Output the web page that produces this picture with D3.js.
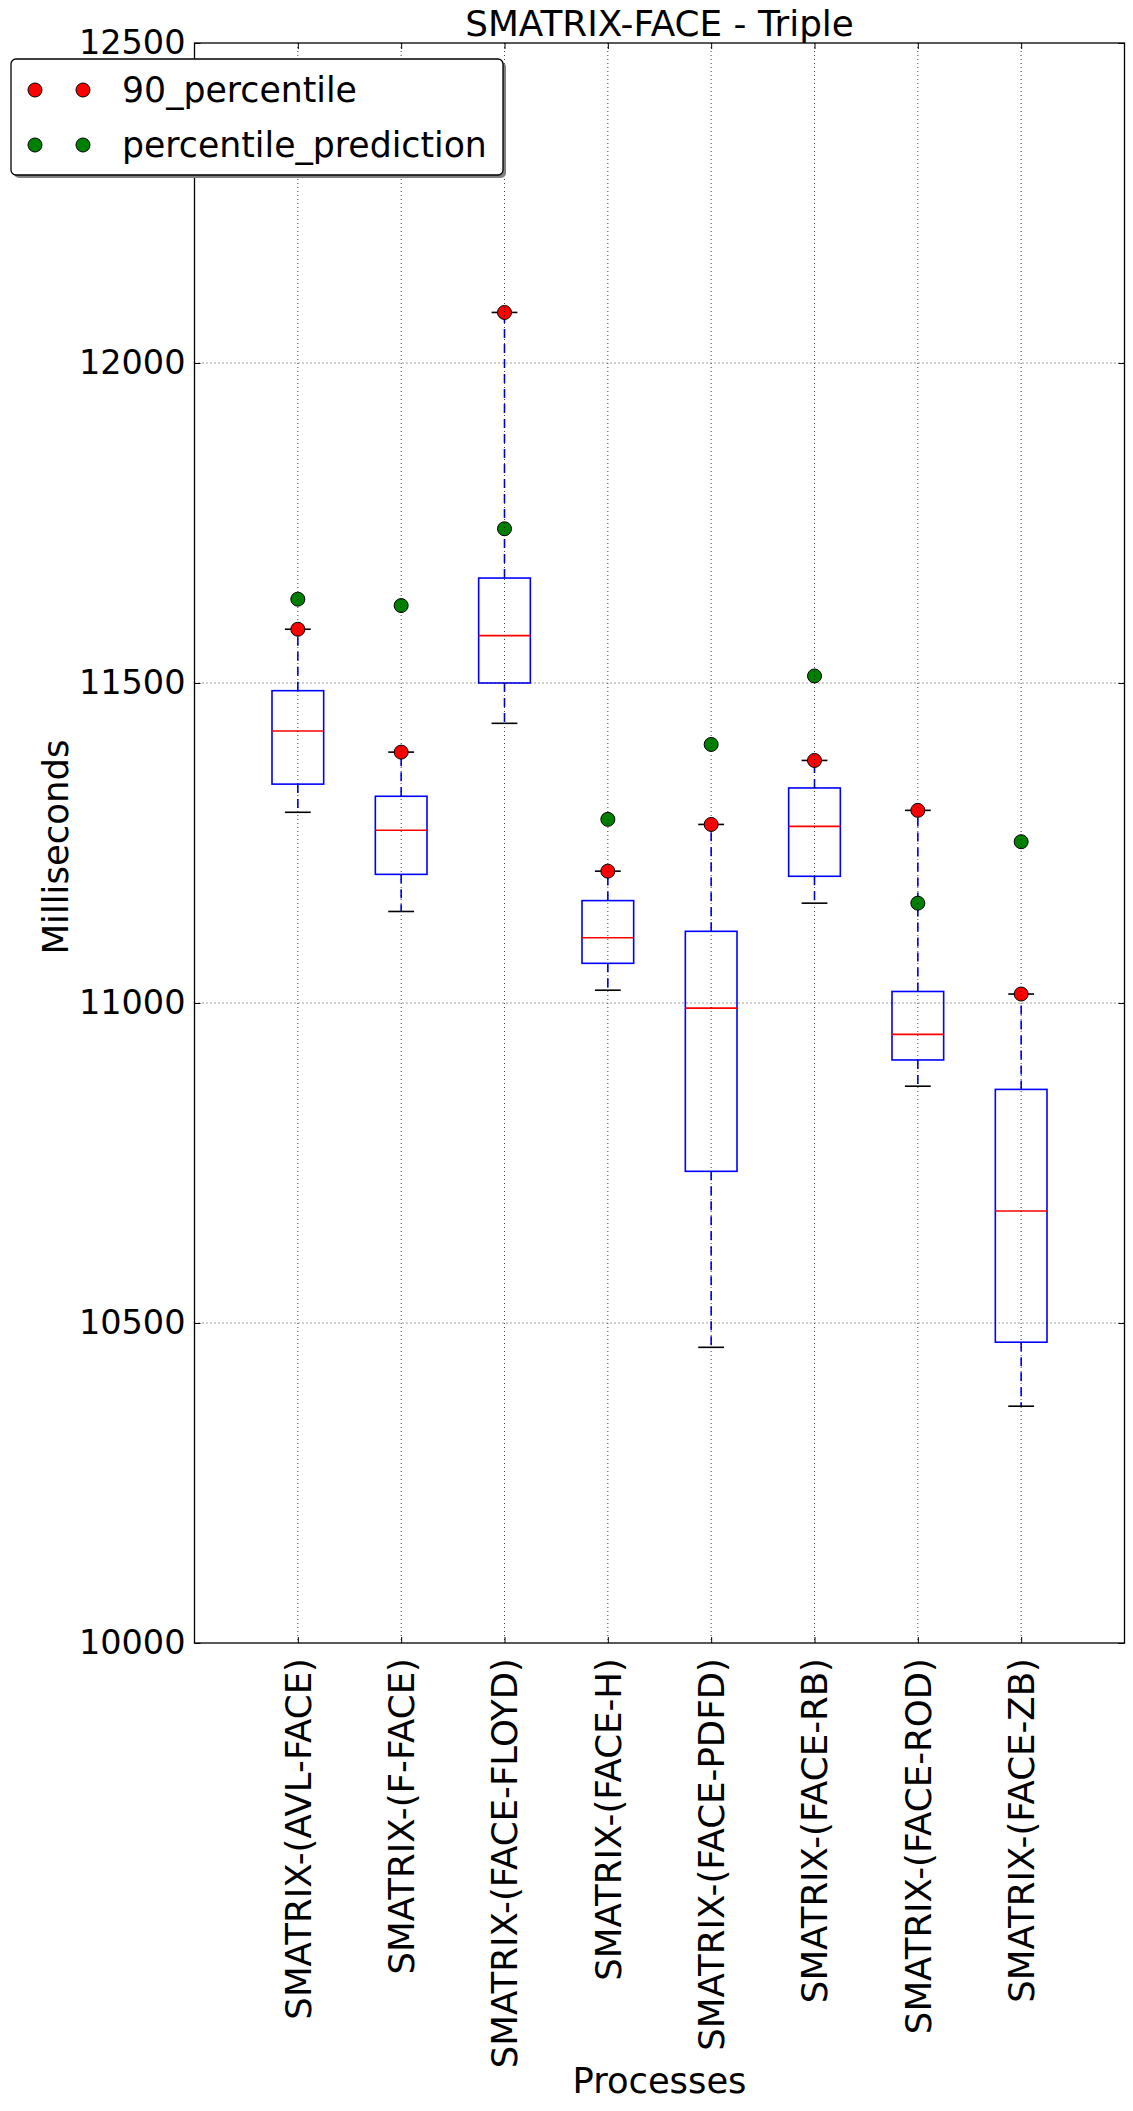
<!DOCTYPE html>
<html>
<head>
<meta charset="utf-8">
<script src="https://cdn.jsdelivr.net/npm/d3@7"></script>
<style>
  html, body { margin: 0; padding: 0; background: #fff; }
  svg { display: block; }
  text { font-family: "DejaVu Sans", sans-serif; fill: #000; }
</style>
</head>
<body>
<svg id="chart" width="1133" height="2111"></svg>
<script>
// ---- data ----
const categories = [
  "SMATRIX-(AVL-FACE)", "SMATRIX-(F-FACE)", "SMATRIX-(FACE-FLOYD)", "SMATRIX-(FACE-H)",
  "SMATRIX-(FACE-PDFD)", "SMATRIX-(FACE-RB)", "SMATRIX-(FACE-ROD)", "SMATRIX-(FACE-ZB)"
];
const whiskerLow = [11298, 11143, 11437, 11020, 10462, 11156, 10870, 10370];
const q1 =         [11342, 11201, 11500, 11062, 10737, 11198, 10911, 10470];
const median =     [11425, 11270, 11574, 11102, 10992, 11276, 10951, 10675];
const q3 =         [11488, 11323, 11664, 11160, 11112, 11336, 11018, 10865];
const percentile90 =         [11584, 11392, 12079, 11206, 11279, 11379, 11301, 11014];
const percentilePrediction = [11631, 11621, 11741, 11287, 11404, 11511, 11156, 11252];
const yTicks = [10000, 10500, 11000, 11500, 12000, 12500];
const titleText = "SMATRIX-FACE - Triple";
const xLabel = "Processes";
const yLabel = "Milliseconds";
const legendLabels = ["90_percentile", "percentile_prediction"];

(function () {
// ---- layout ----
const pL = 194.5, pR = 1124.5, pT = 43, pB = 1643;
const svg = d3.select("#chart");

const x = d3.scaleLinear().domain([0, categories.length + 1]).range([pL, pR]);
const y = d3.scaleLinear().domain([10000, 12500]).range([pB, pT]);

const rows = categories.map((c, i) => ({
  c, pos: i + 1, lo: whiskerLow[i], q1: q1[i], med: median[i], q3: q3[i],
  hi: percentile90[i], p90: percentile90[i], pred: percentilePrediction[i]
}));

const boxW = 0.5, capW = 0.25;
const g = svg.append("g");

// whiskers
g.selectAll(".wlo").data(rows).join("line")
  .attr("x1", d => x(d.pos)).attr("x2", d => x(d.pos))
  .attr("y1", d => y(d.q1)).attr("y2", d => y(d.lo))
  .attr("stroke", "#0000ff").attr("stroke-width", 1.6).attr("stroke-dasharray", "9,6");
g.selectAll(".whi").data(rows).join("line")
  .attr("x1", d => x(d.pos)).attr("x2", d => x(d.pos))
  .attr("y1", d => y(d.q3)).attr("y2", d => y(d.hi))
  .attr("stroke", "#0000ff").attr("stroke-width", 1.6).attr("stroke-dasharray", "9,6");

// caps
["lo", "hi"].forEach(k => {
  g.selectAll(".cap" + k).data(rows).join("line")
    .attr("x1", d => x(d.pos - capW / 2)).attr("x2", d => x(d.pos + capW / 2))
    .attr("y1", d => y(d[k])).attr("y2", d => y(d[k]))
    .attr("stroke", "#000").attr("stroke-width", 1.6);
});

// boxes
g.selectAll(".box").data(rows).join("rect")
  .attr("x", d => x(d.pos - boxW / 2)).attr("width", d => x(d.pos + boxW / 2) - x(d.pos - boxW / 2))
  .attr("y", d => y(d.q3)).attr("height", d => y(d.q1) - y(d.q3))
  .attr("fill", "none").attr("stroke", "#0000ff").attr("stroke-width", 1.6);

// medians
g.selectAll(".med").data(rows).join("line")
  .attr("x1", d => x(d.pos - boxW / 2)).attr("x2", d => x(d.pos + boxW / 2))
  .attr("y1", d => y(d.med)).attr("y2", d => y(d.med))
  .attr("stroke", "#ff0000").attr("stroke-width", 1.6);

// markers
g.selectAll(".p90").data(rows).join("circle")
  .attr("cx", d => x(d.pos)).attr("cy", d => y(d.p90)).attr("r", 7)
  .attr("fill", "#ff0000").attr("stroke", "#000").attr("stroke-width", 1);
g.selectAll(".pred").data(rows).join("circle")
  .attr("cx", d => x(d.pos)).attr("cy", d => y(d.pred)).attr("r", 7)
  .attr("fill", "#008000").attr("stroke", "#000").attr("stroke-width", 1);

// grid (drawn on top, as in the reference)
const grid = svg.append("g").attr("stroke", "#000").attr("stroke-width", 1)
  .attr("stroke-dasharray", "1,3").attr("opacity", 0.75);
grid.selectAll(".gx").data(rows).join("line")
  .attr("x1", d => x(d.pos)).attr("x2", d => x(d.pos))
  .attr("y1", pT).attr("y2", pB);
grid.selectAll(".gy").data(yTicks.slice(1, -1)).join("line")
  .attr("x1", pL).attr("x2", pR)
  .attr("y1", d => y(d)).attr("y2", d => y(d));

// axes (ticks inward, on all sides)
const tickLen = 6;
const axL = svg.append("g").attr("transform", `translate(${pL},0)`)
  .call(d3.axisLeft(y).tickValues(yTicks).tickSizeInner(-tickLen).tickSizeOuter(0).tickPadding(9).tickFormat(d3.format("d")));
const axR = svg.append("g").attr("transform", `translate(${pR},0)`)
  .call(d3.axisRight(y).tickValues(yTicks).tickSizeInner(-tickLen).tickSizeOuter(0).tickFormat(""));
const axB = svg.append("g").attr("transform", `translate(0,${pB})`)
  .call(d3.axisBottom(x).tickValues(rows.map(d => d.pos)).tickSizeInner(-tickLen).tickSizeOuter(0)
    .tickFormat((d, i) => categories[i]));
const axT = svg.append("g").attr("transform", `translate(0,${pT})`)
  .call(d3.axisTop(x).tickValues(rows.map(d => d.pos)).tickSizeInner(-tickLen).tickSizeOuter(0).tickFormat(""));
[axL, axR, axB, axT].forEach(a => {
  a.select(".domain").remove();
  a.selectAll(".tick line").attr("stroke", "#000").attr("stroke-width", 1);
});
axL.selectAll(".tick text").attr("font-size", 33.5).attr("font-family", "DejaVu Sans").attr("fill", "#000");
axB.selectAll(".tick text")
  .attr("font-size", 35.6).attr("font-family", "DejaVu Sans").attr("fill", "#000")
  .attr("text-anchor", "end").attr("transform", "rotate(-90)")
  .attr("x", -15).attr("y", 0).attr("dy", "0.35em");

// frame
svg.append("rect").attr("x", pL).attr("y", pT).attr("width", pR - pL).attr("height", pB - pT)
  .attr("fill", "none").attr("stroke", "#000").attr("stroke-width", 1.3);

// titles
svg.append("text").attr("x", (pL + pR) / 2).attr("y", 36).attr("text-anchor", "middle")
  .attr("font-size", 35.8).text(titleText);
svg.append("text").attr("x", (pL + pR) / 2).attr("y", 2093).attr("text-anchor", "middle")
  .attr("font-size", 35.3).text(xLabel);
svg.append("text").attr("transform", `translate(68,${(pT + pB) / 2 + 4}) rotate(-90)`)
  .attr("text-anchor", "middle").attr("font-size", 35.5).text(yLabel);

// legend
const lg = svg.append("g");
const lx = 11, ly = 59, lw = 492, lh = 116;
lg.append("rect").attr("x", lx + 3).attr("y", ly + 3).attr("width", lw).attr("height", lh)
  .attr("rx", 5).attr("fill", "#808080");
lg.append("rect").attr("x", lx).attr("y", ly).attr("width", lw).attr("height", lh)
  .attr("rx", 5).attr("fill", "#fff").attr("stroke", "#000").attr("stroke-width", 1.3);
const legendColors = ["#ff0000", "#008000"];
legendLabels.forEach((lab, i) => {
  const yy = 90 + i * 55;
  [35, 83].forEach(mx => lg.append("circle").attr("cx", mx).attr("cy", yy).attr("r", 7)
    .attr("fill", legendColors[i]).attr("stroke", "#000").attr("stroke-width", 1));
  lg.append("text").attr("x", 122).attr("y", yy).attr("dy", "0.35em").attr("font-size", 34.7).text(lab);
});
})();
</script>
</body>
</html>
